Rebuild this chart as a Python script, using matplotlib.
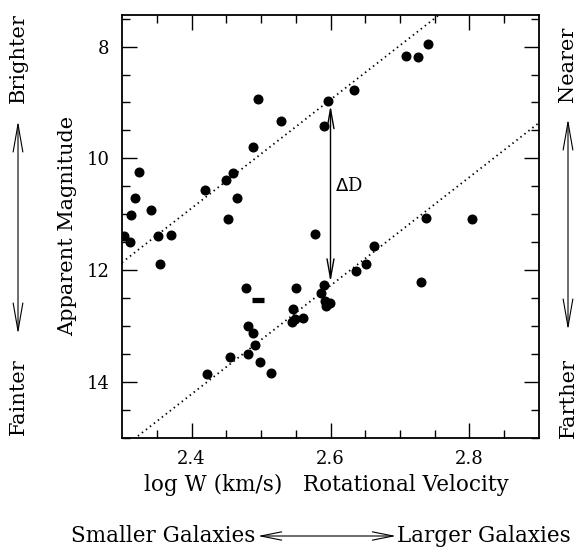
import matplotlib
matplotlib.use("Agg")
import matplotlib.pyplot as plt
import numpy as np

plt.rcParams['font.family'] = ['DejaVu Serif']

# Galaxy measurements: log W (km/s) and apparent magnitude
log_w = [2.740, 2.708, 2.726, 2.634, 2.597, 2.496, 2.529, 2.590, 2.489, 2.459,
         2.449, 2.324, 2.419, 2.318, 2.465, 2.342, 2.313, 2.452, 2.738, 2.804,
         2.303, 2.311, 2.352, 2.371, 2.578, 2.354, 2.663, 2.651, 2.636, 2.730,
         2.591, 2.479, 2.551, 2.587, 2.592, 2.599, 2.593, 2.546, 2.561, 2.549,
         2.545, 2.482, 2.489, 2.492, 2.456, 2.482, 2.499, 2.514, 2.422]
app_mag = [7.96, 8.17, 8.18, 8.78, 8.98, 8.94, 9.33, 9.43, 9.80, 10.26,
           10.38, 10.25, 10.57, 10.71, 10.71, 10.93, 11.02, 11.09, 11.07, 11.08,
           11.39, 11.50, 11.39, 11.37, 11.36, 11.89, 11.57, 11.90, 12.01, 12.22,
           12.27, 12.33, 12.32, 12.42, 12.55, 12.60, 12.64, 12.69, 12.86, 12.87,
           12.94, 13.01, 13.13, 13.35, 13.55, 13.51, 13.65, 13.85, 13.87]
# blended pair drawn as a bar
bar_w = [2.496]
bar_mag = [12.54]

# Tully-Fisher relations (near cluster and far cluster)
tf_slope = -9.72
tf_pivot = 2.6
tf_near = 8.95
tf_far = 12.28

# Distance-offset arrow
dd_x = 2.6
dd_top = 9.05
dd_bottom = 12.22

x_ticks = [2.4, 2.6, 2.8]
y_ticks = [8, 10, 12, 14]

fig = plt.figure(figsize=(5.76, 5.51), dpi=100)
ax = fig.add_axes([122/576, 1-437.5/551, (539-122)/576, (437.5-14.8)/551])

ax.plot(log_w, app_mag, 'o', color='black', markersize=6.2, zorder=3)
ax.plot(bar_w, bar_mag, '_', color='black', markersize=9, markeredgewidth=3.8, zorder=3)

xx = np.array([2.3, 2.9])
ax.plot(xx, tf_near + tf_slope*(xx - tf_pivot), color='black', lw=1.3,
        linestyle=(0, (0.8, 2.0)))
ax.plot(xx, tf_far + tf_slope*(xx - tf_pivot), color='black', lw=1.3,
        linestyle=(0, (0.8, 2.0)))

ax.annotate('', xy=(dd_x, dd_top), xytext=(dd_x, dd_bottom),
            arrowprops=dict(arrowstyle='<->,head_length=1.4,head_width=0.25',
                            color='black', lw=1.0, shrinkA=0, shrinkB=0))
ax.text(2.606, 10.5, r'$\Delta$D', fontsize=13, ha='left', va='center')

ax.set_xlim(2.3, 2.9)
ax.set_ylim(15.0, 7.43)
ax.set_xticks(x_ticks)
ax.set_xticklabels([f'{v:.1f}' for v in x_ticks])
ax.set_yticks(y_ticks)
ax.set_xticks(np.arange(2.35, 2.9, 0.05), minor=True)
ax.set_yticks(np.arange(7.5, 15.01, 0.5), minor=True)
ax.tick_params(which='both', direction='in', top=True, right=True,
               labelsize=13, width=1.0)
ax.tick_params(which='major', length=11, pad=9)
ax.tick_params(which='minor', length=5.5)
for s in ax.spines.values():
    s.set_linewidth(1.3)

ax.set_xlabel('log W (km/s)   Rotational Velocity', fontsize=15.5, labelpad=4,
              x=0.489)
ax.set_ylabel('Apparent Magnitude', fontsize=15, labelpad=7)

# Side annotations
side_fs = 15
fig.text(18/576, 1-58/551, 'Brighter', rotation=90, ha='center', va='center', fontsize=side_fs)
fig.text(18/576, 1-397/551, 'Fainter', rotation=90, ha='center', va='center', fontsize=side_fs)
fig.text(568/576, 1-64/551, 'Nearer', rotation=90, ha='center', va='center', fontsize=side_fs)
fig.text(568/576, 1-398/551, 'Farther', rotation=90, ha='center', va='center', fontsize=side_fs)

arr = dict(arrowstyle='<->,head_length=2.0,head_width=0.35', color='black',
           lw=0.8, shrinkA=0, shrinkB=0)
ax.annotate('', xy=(18/576, 1-121/551), xytext=(18/576, 1-334/551),
            xycoords='figure fraction', textcoords='figure fraction', arrowprops=arr,
            annotation_clip=False)
ax.annotate('', xy=(568/576, 1-119/551), xytext=(568/576, 1-330/551),
            xycoords='figure fraction', textcoords='figure fraction', arrowprops=arr,
            annotation_clip=False)

fig.text(255/576, 1-536/551, 'Smaller Galaxies', ha='right', va='center', fontsize=15.5)
fig.text(397/576, 1-536/551, 'Larger Galaxies', ha='left', va='center', fontsize=15.5)
arr_h = dict(arrowstyle='<->,head_length=1.5,head_width=0.3', color='black',
             lw=0.8, shrinkA=0, shrinkB=0)
ax.annotate('', xy=(258/576, 1-536/551), xytext=(396/576, 1-536/551),
            xycoords='figure fraction', textcoords='figure fraction', arrowprops=arr_h,
            annotation_clip=False)

fig.savefig('out.png', dpi=100)
